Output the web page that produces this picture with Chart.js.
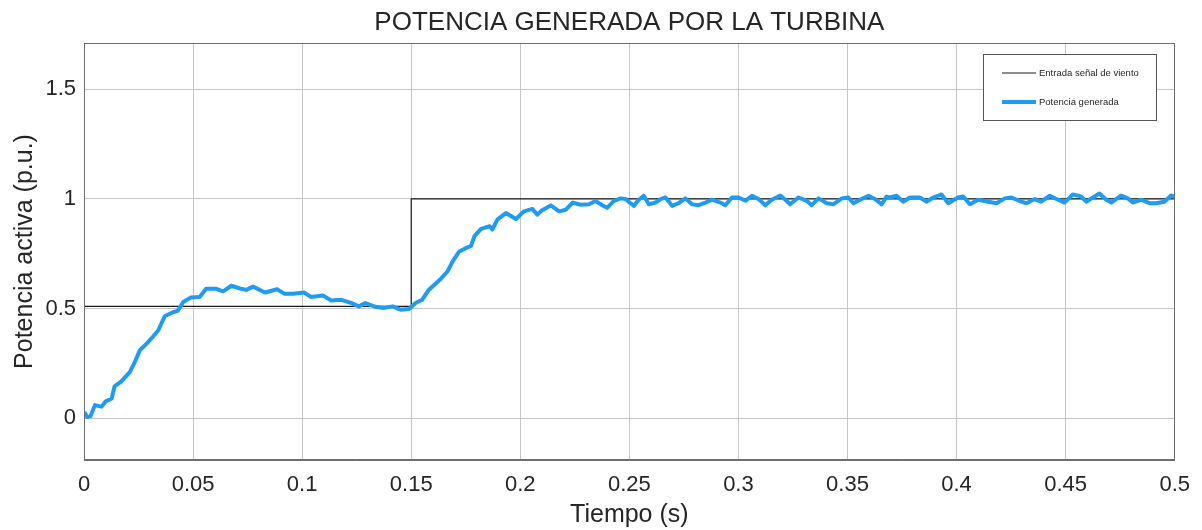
<!DOCTYPE html>
<html>
<head>
<meta charset="utf-8">
<title>Potencia generada por la turbina</title>
<script src="https://cdn.jsdelivr.net/npm/chart.js@4.4.0/dist/chart.umd.min.js"></script>
<style>
  html, body { margin: 0; padding: 0; background: #fff; }
  #wrap { width: 1202px; height: 530px; }
</style>
</head>
<body>
<div id="wrap"><canvas id="turbineChart" width="1202" height="530"></canvas></div>
<script>
// wind input step (black)
const windTime = [0, 0.15, 0.15, 0.5];
const windValue = [0.51, 0.51, 1, 1];

// generated power (blue)
const powerTime = [
  0, 0.0005, 0.0015, 0.003, 0.005, 0.008, 0.010, 0.0127, 0.014, 0.017,
  0.021, 0.023, 0.0256, 0.0287, 0.031, 0.034, 0.037, 0.040, 0.043, 0.0455,
  0.049, 0.053, 0.056, 0.0607, 0.0637, 0.0676, 0.072, 0.0744, 0.0775, 0.083,
  0.0885, 0.092, 0.0957, 0.101, 0.104, 0.1095, 0.1133, 0.118, 0.1224, 0.126,
  0.129, 0.134, 0.1377, 0.1415, 0.145, 0.149, 0.152, 0.155, 0.158, 0.163,
  0.1667, 0.169, 0.172, 0.175, 0.1774, 0.179, 0.182, 0.186, 0.1872, 0.1895,
  0.1934, 0.198, 0.2017, 0.2055, 0.2078, 0.210, 0.214, 0.2178, 0.2208, 0.224,
  0.2277, 0.2315, 0.2345, 0.2376, 0.2398, 0.2429, 0.2460, 0.2483, 0.2505, 0.2521,
  0.2543, 0.2566, 0.2589, 0.2620, 0.2643, 0.2666, 0.2696, 0.2726, 0.2757, 0.2787,
  0.2818, 0.2849, 0.2879, 0.2917, 0.2940, 0.2970, 0.3001, 0.3032, 0.3062, 0.3092,
  0.3123, 0.3153, 0.3192, 0.3215, 0.3237, 0.3275, 0.3313, 0.3336, 0.3367, 0.3405,
  0.3435, 0.3474, 0.3504, 0.3527, 0.3565, 0.3596, 0.3626, 0.3657, 0.3679, 0.3695,
  0.3725, 0.3756, 0.3786, 0.3832, 0.3862, 0.3893, 0.3931, 0.3962, 0.4007, 0.4030,
  0.4061, 0.4099, 0.4145, 0.4183, 0.4221, 0.4251, 0.4297, 0.4320, 0.4358, 0.4388,
  0.4427, 0.4465, 0.4495, 0.4533, 0.4571, 0.4594, 0.4625, 0.4655, 0.4686, 0.4709,
  0.4754, 0.4785, 0.4808, 0.4846, 0.4884, 0.4914, 0.4953, 0.4983, 0.5
];
const powerValue = [
  0.02, 0.023, 0.005, 0.01, 0.06, 0.053, 0.077, 0.09, 0.145, 0.167,
  0.21, 0.25, 0.31, 0.34, 0.365, 0.40, 0.465, 0.48, 0.49, 0.53,
  0.55, 0.553, 0.59, 0.59, 0.578, 0.604, 0.59, 0.585, 0.60, 0.573,
  0.588, 0.567, 0.567, 0.573, 0.553, 0.56, 0.537, 0.54, 0.526, 0.51,
  0.525, 0.507, 0.503, 0.51, 0.495, 0.498, 0.525, 0.54, 0.585, 0.63,
  0.67, 0.715, 0.76, 0.775, 0.785, 0.83, 0.863, 0.875, 0.86, 0.905,
  0.935, 0.908, 0.943, 0.954, 0.928, 0.948, 0.97, 0.943, 0.95, 0.983,
  0.973, 0.975, 0.99, 0.971, 0.959, 0.991, 1.002, 0.999, 0.980, 0.968,
  0.996, 1.014, 0.975, 0.983, 0.999, 1.006, 0.968, 0.980, 1.002, 0.975,
  0.971, 0.983, 0.996, 0.983, 0.971, 1.006, 1.006, 0.991, 1.014, 0.999,
  0.971, 0.996, 1.015, 0.996, 0.975, 1.006, 0.991, 0.971, 1.002, 0.980,
  0.975, 1.002, 1.006, 0.980, 0.999, 1.014, 0.999, 0.975, 1.01, 1.006,
  1.014, 0.987, 1.006, 1.006, 0.987, 1.006, 1.020, 0.980, 1.006, 1.011,
  0.975, 0.996, 0.987, 0.980, 1.002, 1.006, 0.987, 0.980, 0.999, 0.987,
  1.014, 0.996, 0.983, 1.020, 1.011, 0.987, 1.006, 1.024, 0.996, 0.983,
  1.015, 1.002, 0.983, 0.996, 0.980, 0.980, 0.987, 1.015, 1.01
];

const xTicks = [0, 0.05, 0.1, 0.15, 0.2, 0.25, 0.3, 0.35, 0.4, 0.45, 0.5];
const xTickLabels = ['0', '0.05', '0.1', '0.15', '0.2', '0.25', '0.3', '0.35', '0.4', '0.45', '0.5'];
const yTicks = [0, 0.5, 1, 1.5];
const yTickLabels = ['0', '0.5', '1', '1.5'];

const seriesNames = ['Entrada señal de viento', 'Potencia generada'];
const seriesColors = ['#1a1a1a', '#1f9bef'];
const seriesWidths = [1.2, 4];

const FONT = "'Liberation Sans', Arial, Helvetica, sans-serif";
const textColor = '#262626';
const frameColor = '#6e6e6e';
const gridColor = '#c6c6c6';

const toPoints = (xs, ys) => xs.map((x, i) => ({x: x, y: ys[i]}));

// box around the plot area (top/right edges too)
const framePlugin = {
  id: 'frame',
  afterDatasetsDraw(chart) {
    const a = chart.chartArea, c = chart.ctx;
    c.save();
    c.strokeStyle = frameColor;
    c.lineWidth = 1;
    c.strokeRect(Math.round(a.left) + 0.5, Math.round(a.top) + 0.5,
      Math.round(a.right - a.left) - 1, Math.round(a.bottom - a.top) - 1);
    c.restore();
  }
};

// legend box in the upper right corner, like the matlab one
const legendBoxPlugin = {
  id: 'legendBox',
  afterDraw(chart) {
    const a = chart.chartArea, c = chart.ctx;
    const w = 173, h = 66;
    const left = Math.round(a.right) - 192, top = Math.round(a.top) + 11;
    c.save();
    c.fillStyle = '#fff';
    c.fillRect(left, top, w, h);
    c.strokeStyle = '#555';
    c.lineWidth = 1;
    c.strokeRect(left + 0.5, top + 0.5, w, h);
    const rows = [top + 19, top + 48];
    chart.data.datasets.forEach((ds, i) => {
      c.strokeStyle = ds.borderColor;
      c.lineWidth = ds.borderWidth;
      c.beginPath();
      c.moveTo(left + 19, rows[i]);
      c.lineTo(left + 53, rows[i]);
      c.stroke();
      c.fillStyle = textColor;
      c.font = '9.5px ' + FONT;
      c.textBaseline = 'middle';
      c.textAlign = 'left';
      c.fillText(ds.label, left + 56, rows[i]);
    });
    c.restore();
  }
};

const ctx = document.getElementById('turbineChart').getContext('2d');
const chart = new Chart(ctx, {
  type: 'line',
  data: {
    datasets: [
      {
        label: seriesNames[0],
        data: toPoints(windTime, windValue),
        borderColor: seriesColors[0],
        borderWidth: seriesWidths[0],
        pointRadius: 0,
        tension: 0,
        order: 1
      },
      {
        label: seriesNames[1],
        data: toPoints(powerTime, powerValue),
        borderColor: seriesColors[1],
        borderWidth: seriesWidths[1],
        borderJoinStyle: 'round',
        pointRadius: 0,
        tension: 0,
        order: 0
      }
    ]
  },
  options: {
    responsive: false,
    animation: false,
    events: [],
    layout: { padding: { left: 0, right: 26, top: 0, bottom: 0 } },
    plugins: {
      legend: { display: false },
      tooltip: { enabled: false },
      title: {
        display: true,
        text: 'POTENCIA GENERADA POR LA TURBINA',
        fullSize: false,
        color: textColor,
        font: { family: FONT, size: 26, weight: 'normal' },
        padding: { top: 7, bottom: 4.8 }
      }
    },
    scales: {
      x: {
        type: 'linear',
        min: 0,
        max: 0.5,
        afterBuildTicks: s => { s.ticks = xTicks.map(v => ({value: v})); },
        afterFit: s => { s.height = 70; },
        ticks: {
          color: textColor,
          font: { family: FONT, size: 22 },
          padding: 12,
          maxRotation: 0,
          autoSkip: false,
          callback: (v, i) => xTickLabels[i]
        },
        grid: { color: gridColor, drawTicks: false },
        border: { color: frameColor },
        title: {
          display: true,
          text: 'Tiempo (s)',
          color: textColor,
          font: { family: FONT, size: 25 },
          padding: { top: 0, bottom: 0 }
        }
      },
      y: {
        type: 'linear',
        min: -0.19,
        max: 1.71,
        afterBuildTicks: s => { s.ticks = yTicks.map(v => ({value: v})); },
        afterFit: s => { s.width = 84; },
        ticks: {
          color: textColor,
          font: { family: FONT, size: 22 },
          padding: 8,
          autoSkip: false,
          callback: (v, i) => yTickLabels[i]
        },
        grid: { color: gridColor, drawTicks: false },
        border: { color: frameColor },
        title: {
          display: true,
          text: 'Potencia activa (p.u.)',
          color: textColor,
          font: { family: FONT, size: 25 },
          padding: { top: 10, bottom: 0 }
        }
      }
    }
  },
  plugins: [framePlugin, legendBoxPlugin]
});
</script>
</body>
</html>
